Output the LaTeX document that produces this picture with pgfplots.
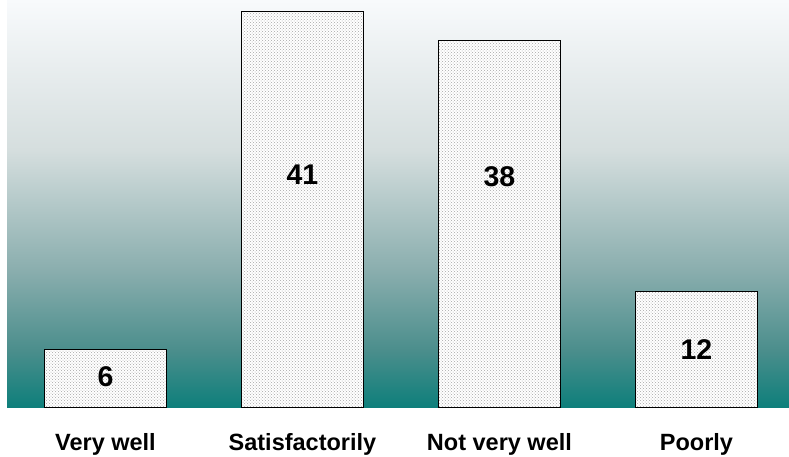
\documentclass[border=0pt]{standalone}
\usepackage{fontspec}
\setmainfont{Liberation Sans}
\usepackage{pgfplots}
\pgfplotsset{compat=1.18}
\usetikzlibrary{patterns}
\definecolor{c0}{RGB}{14,127,123}
\definecolor{c1}{RGB}{75,142,140}
\definecolor{c2}{RGB}{138,174,174}
\definecolor{c3}{RGB}{213,222,222}
\definecolor{c4}{RGB}{248,250,252}
\pgfdeclareverticalshading{bgshade}{100bp}{color(0bp)=(c0); color(25bp)=(c0); color(32bp)=(c1); color(41.8bp)=(c2); color(56.6bp)=(c3); color(75bp)=(c4); color(100bp)=(c4)}
\begin{document}
\begin{tikzpicture}
\begin{axis}[
  scale only axis, width=782pt, height=407pt,
  xmin=-0.5, xmax=3.47, ymin=0, ymax=42.2,
  axis background/.style={shading=bgshade},
  axis line style={draw=none},
  tick style={draw=none},
  ymajorticks=false,
  xtick={0,1,2,3},
  xticklabels={Very well,Satisfactorily,Not very well,Poorly},
  xticklabel style={font=\fontsize{23.5}{26}\selectfont\bfseries, anchor=center, yshift=-33pt},
  ybar, bar width=122pt, bar shift=0pt,
]
\addplot[draw=black, line width=1pt, fill=white,
  postaction={pattern=crosshatch dots, pattern color=gray!70}]
  coordinates {(0,6) (1,41) (2,38) (3,12)};
\addplot[draw=none, fill=none, nodes near coords, point meta=explicit symbolic,
  every node near coord/.style={font=\fontsize{28.5}{30}\selectfont\bfseries, anchor=center},
  bar width=0pt]
  coordinates {(0,3.1)[6] (1,24.1)[41] (2,23.9)[38] (3,6.0)[12]};
\end{axis}
\pgfresetboundingbox
\useasboundingbox (-7pt,-49pt) rectangle (782pt,407pt);
\end{tikzpicture}
\end{document}
